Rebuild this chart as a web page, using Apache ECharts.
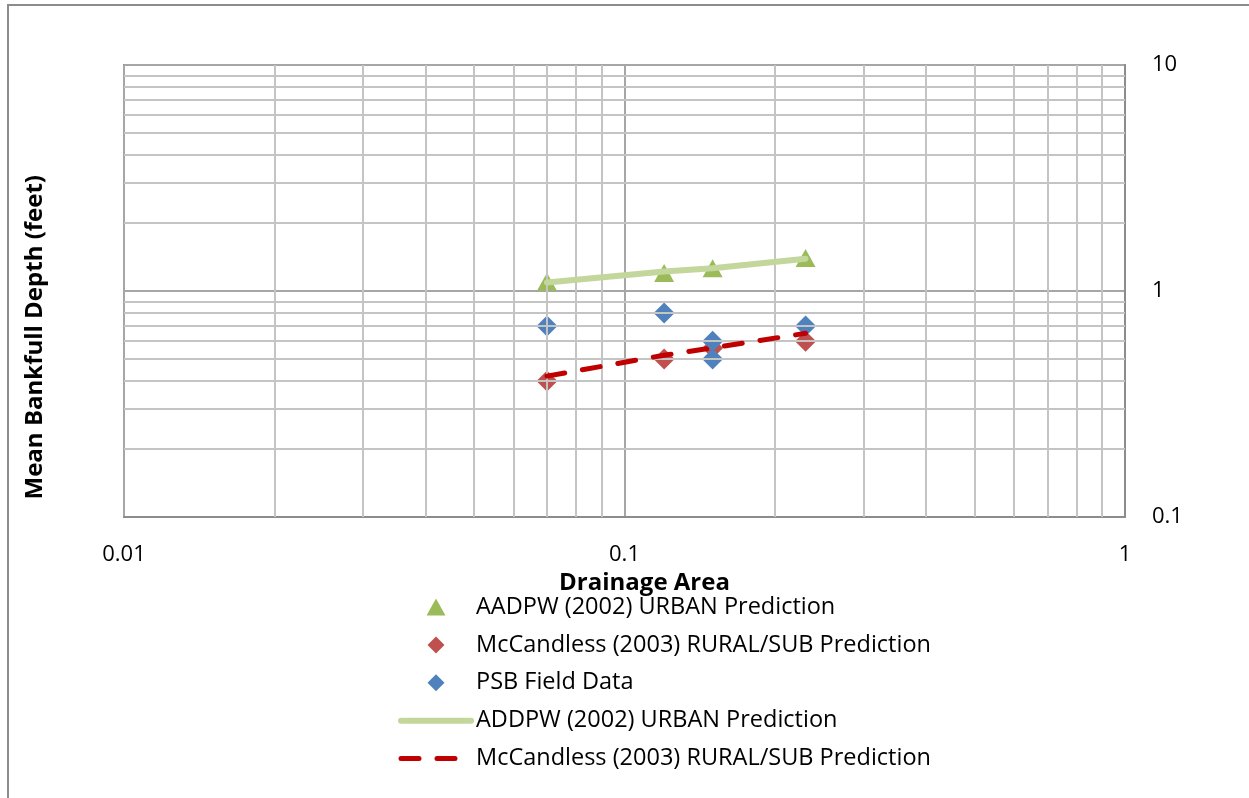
<!DOCTYPE html>
<html><head><meta charset="utf-8">
<script src="https://cdn.jsdelivr.net/npm/echarts@6/dist/echarts.min.js"></script>
<style>html,body{margin:0;padding:0;background:#fff}#c{width:1249px;height:798px}</style>
</head><body><div id="c"></div>
<script>
const areas = [0.07, 0.12, 0.15, 0.23];
const urbanPred = [1.1, 1.2, 1.26, 1.4];
const ruralPred = [0.4, 0.5, 0.56, 0.6];
const fieldAreas = [0.07, 0.12, 0.15, 0.15, 0.23];
const fieldDepth = [0.7, 0.8, 0.6, 0.5, 0.7];
const urbanLine = [1.09, 1.22, 1.26, 1.39];
const ruralLine = [0.42, 0.52, 0.56, 0.65];
const xMinor = [0.02,0.03,0.04,0.05,0.06,0.07,0.08,0.09,0.2,0.3,0.4,0.5,0.6,0.7,0.8,0.9];
const yMinor = [0.2,0.3,0.4,0.5,0.6,0.7,0.8,0.9,2,3,4,5,6,7,8,9];
const names = ['AADPW (2002) URBAN Prediction','McCandless (2003) RURAL/SUB Prediction','PSB Field Data','ADDPW (2002) URBAN Prediction','McCandless (2003) RURAL/SUB Prediction '];
const pair = (xs, ys) => xs.map((x, i) => [x, ys[i]]);
const font = '"Open Sans", sans-serif';
const triIcon = 'path://M5,0 L10,9 L0,9 Z';
const diaIcon = 'path://M5,0 L10,5 L5,10 L0,5 Z';

const chart = echarts.init(document.getElementById('c'), null, {renderer: 'canvas'});
chart.setOption({
  animation: false,
  backgroundColor: '#fff',
  grid: {left: 124, right: 124, top: 65, height: 452, show: true, borderColor: '#8c8c8c', borderWidth: 2},
  xAxis: {
    type: 'log', logBase: 10, min: 0.01, max: 1,
    name: 'Drainage Area', nameLocation: 'middle', nameGap: 46,
    nameTextStyle: {fontFamily: font, fontSize: 24, fontWeight: 'bold', color: '#000', padding: [0, 0, 0, 40]},
    axisLine: {show: true, lineStyle: {color: '#8c8c8c', width: 2}},
    axisTick: {show: false},
    axisLabel: {fontFamily: font, fontSize: 22, color: '#000', margin: 27,
      formatter: v => (v >= 1 ? String(Math.round(v)) : String(+v.toPrecision(1)))},
    splitLine: {show: true, lineStyle: {color: '#a6a6a6', width: 2}}
  },
  yAxis: {
    type: 'log', logBase: 10, min: 0.1, max: 10, position: 'right',
    axisLine: {show: true, lineStyle: {color: '#8c8c8c', width: 2}},
    axisTick: {show: false},
    axisLabel: {fontFamily: font, fontSize: 22, color: '#000', margin: 27,
      formatter: v => (v >= 1 ? String(Math.round(v)) : String(+v.toPrecision(1)))},
    splitLine: {show: true, lineStyle: {color: '#a6a6a6', width: 2}}
  },
  legend: {
    orient: 'vertical', left: 393, top: 590,
    itemWidth: 70, itemHeight: 17, itemGap: 13.9,
    symbolKeepAspect: true,
    data: [
      {name: names[0], icon: triIcon},
      {name: names[1], icon: diaIcon},
      {name: names[2], icon: diaIcon},
      {name: names[3], itemStyle: {opacity: 0}, lineStyle: {width: 6}},
      {name: names[4], itemStyle: {opacity: 0}, lineStyle: {width: 5}}
    ],
    textStyle: {fontFamily: font, fontSize: 23.5, color: '#000', lineHeight: 22}
  },
  graphic: [
    {type: 'rect', shape: {x: 8, y: 5, width: 1260, height: 820}, style: {fill: 'none', stroke: '#8c8c8c', lineWidth: 2}, silent: true, z: -10},
    {type: 'text', left: 23, top: 175, rotation: Math.PI / 2, style: {text: 'Mean Bankfull Depth (feet)', font: 'bold 24px "Open Sans", sans-serif', fill: '#000'}}
  ],
  series: [
    {type: 'line', data: [], silent: true, z: 1,
      markLine: {silent: true, symbol: 'none', label: {show: false}, animation: false,
        lineStyle: {color: '#c4c4c4', width: 2, type: 'solid'},
        data: xMinor.map(v => ({xAxis: v})).concat(yMinor.map(v => ({yAxis: v})))}},
    {name: names[0], type: 'scatter', data: pair(areas, urbanPred), symbol: 'triangle', symbolSize: [20, 18],
      itemStyle: {color: '#9bbb59', opacity: 1}, z: 3},
    {name: names[1], type: 'scatter', data: pair(areas, ruralPred), symbol: 'diamond', symbolSize: 21,
      itemStyle: {color: '#c0504d', opacity: 1}, z: 3},
    {name: names[2], type: 'scatter', data: pair(fieldAreas, fieldDepth), symbol: 'diamond', symbolSize: 21,
      itemStyle: {color: '#4f81bd', opacity: 1}, z: 4},
    {name: names[3], type: 'line', data: pair(areas, urbanLine), symbol: 'none',
      lineStyle: {color: '#c3d69b', width: 6, cap: 'round'}, itemStyle: {color: '#c3d69b'}, z: 5},
    {name: names[4], type: 'line', data: pair(areas, ruralLine), symbol: 'none',
      lineStyle: {color: '#c00000', width: 5, type: [18, 18], cap: 'round'}, itemStyle: {color: '#c00000'}, z: 6}
  ]
});
</script></body></html>
